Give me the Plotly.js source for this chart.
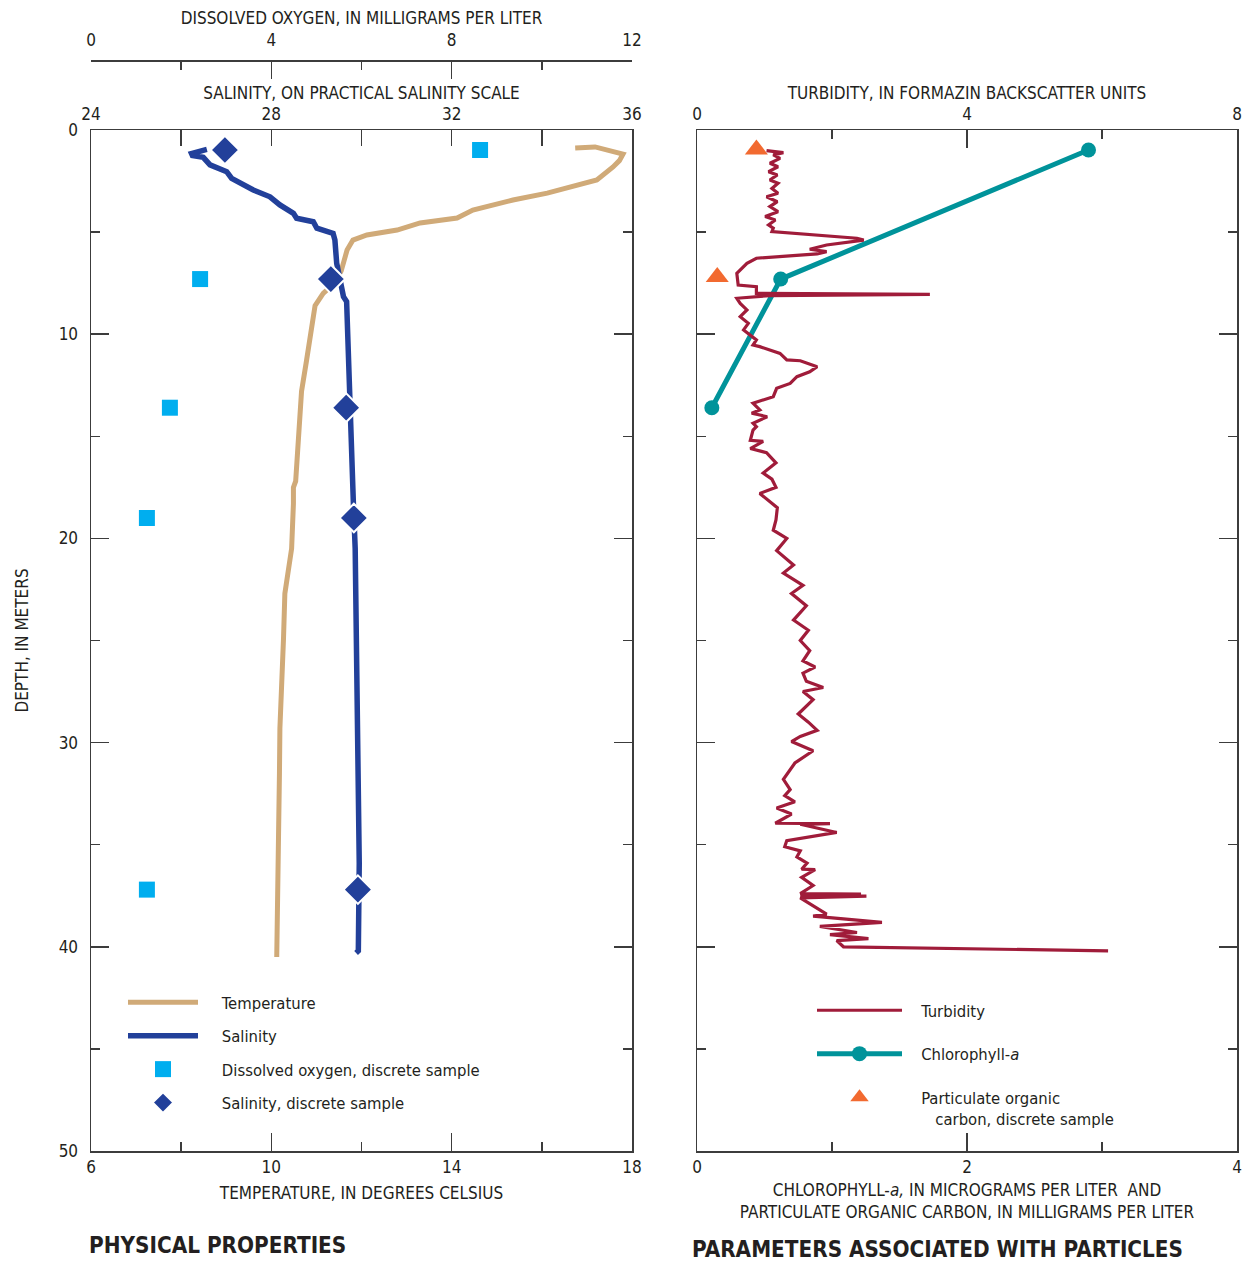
<!DOCTYPE html>
<html>
<head>
<meta charset="utf-8">
<script src="https://cdn.plot.ly/plotly-3.0.1.min.js"></script>
<style>
html,body{margin:0;padding:0;background:#fff;}
#chart{width:1251px;height:1264px;}
</style>
</head>
<body>
<div id="chart"></div>
<script>
// ---------- DATA ----------
// Temperature profile (degrees Celsius) vs depth (m)
const tempDepth = [0.88, 0.83, 1.18, 1.5, 1.81, 2.45, 3.09, 3.43, 3.92, 4.31, 4.55, 4.90, 5.14, 5.39, 5.88, 6.9, 7.5, 8.0, 8.6, 9.99, 11.3, 12.8, 15.0, 17.2, 17.5, 18.3, 20.5, 21.6, 22.7, 24.9, 27.1, 29.3, 31.5, 33.9, 35.9, 37.2, 38.1, 40.5];
const temperature = [16.74, 17.18, 17.80, 17.72, 17.58, 17.22, 16.12, 15.36, 14.47, 14.12, 13.30, 12.79, 12.12, 11.81, 11.68, 11.55, 11.40, 11.15, 10.97, 10.86, 10.78, 10.67, 10.60, 10.54, 10.49, 10.49, 10.45, 10.38, 10.30, 10.27, 10.23, 10.19, 10.18, 10.16, 10.14, 10.15, 10.12, 10.12];

// Salinity profile (practical salinity scale) vs depth (m)
const salDepth = [0.95, 1.15, 1.25, 1.34, 1.71, 2.04, 2.37, 2.94, 3.27, 3.67, 4.08, 4.32, 4.49, 4.81, 5.06, 5.39, 6.53, 7.18, 8.16, 8.4, 10.6, 12.8, 16.1, 18.3, 20.5, 24.9, 29.3, 33.7, 35.9, 40.2, 40.3];
const salinity = [26.57, 26.23, 26.25, 26.49, 26.64, 27.01, 27.12, 27.60, 27.97, 28.19, 28.49, 28.56, 28.93, 29.01, 29.37, 29.41, 29.45, 29.52, 29.60, 29.67, 29.71, 29.75, 29.78, 29.82, 29.86, 29.89, 29.91, 29.92, 29.95, 29.93, 29.88];

// Discrete samples
const sampleDepth = [0.98, 7.3, 13.6, 19.0, 37.2];
const dissolvedOxygen = [8.63, 2.42, 1.75, 1.24, 1.24];
const salinitySample = [26.97, 29.32, 29.66, 29.83, 29.92];

// Turbidity profile (FBU) vs depth (m)
const turbDepth = [1.01, 1.11, 1.22, 1.39, 1.63, 1.80, 2.04, 2.20, 2.45, 2.61, 2.86, 3.10, 3.27, 3.51, 3.75, 4.00, 4.24, 4.41, 4.65, 4.81, 4.98, 5.30, 5.39, 5.63, 5.84, 5.96, 6.07, 6.28, 6.53, 7.02, 7.59, 7.67, 8.00, 8.05, 8.11, 8.24, 8.49, 8.81, 9.14, 9.47, 9.79, 10.12, 10.28, 10.53, 10.61, 10.94, 11.26, 11.30, 11.59, 11.84, 12.08, 12.41, 12.65, 13.06, 13.22, 13.38, 13.71, 13.87, 14.04, 14.36, 14.53, 14.7, 15.2, 15.25, 15.6, 15.8, 16.3, 16.8, 17.1, 17.5, 17.8, 18.2, 18.5, 19.1, 19.6, 20.0, 20.6, 21.3, 21.7, 22.3, 22.7, 23.3, 24.0, 24.5, 25.0, 25.5, 26.0, 26.3, 26.6, 27.0, 27.3, 27.5, 27.9, 28.6, 29.0, 29.4, 29.7, 29.95, 30.4, 31.0, 31.4, 31.8, 32.3, 32.6, 32.9, 33.2, 33.5, 33.95, 33.97, 34.0, 34.4, 34.8, 35.1, 35.3, 35.6, 35.9, 36.2, 36.22, 36.6, 37.0, 37.4, 37.42, 37.5, 37.52, 37.6, 37.9, 38.4, 38.5, 38.8, 39.0, 39.3, 39.4, 39.6, 39.7, 40.0, 40.2];
const turbidity = [1.03, 1.28, 1.13, 1.23, 1.08, 1.20, 1.06, 1.19, 1.08, 1.20, 1.11, 1.20, 1.03, 1.19, 1.08, 1.20, 1.01, 1.16, 1.06, 1.13, 1.11, 2.37, 2.47, 1.92, 1.67, 1.92, 1.78, 0.88, 0.74, 0.59, 0.61, 0.88, 0.88, 3.45, 1.08, 0.59, 0.64, 0.74, 0.64, 0.76, 0.69, 0.81, 0.88, 0.83, 0.93, 1.23, 1.33, 1.53, 1.78, 1.67, 1.48, 1.38, 1.18, 1.13, 0.98, 0.83, 0.93, 0.81, 1.04, 0.83, 0.88, 0.83, 0.79, 0.98, 0.79, 1.03, 1.17, 0.98, 1.11, 1.17, 0.93, 1.07, 1.19, 1.17, 1.13, 1.33, 1.18, 1.43, 1.28, 1.57, 1.40, 1.62, 1.43, 1.65, 1.53, 1.67, 1.57, 1.75, 1.57, 1.62, 1.87, 1.57, 1.72, 1.50, 1.65, 1.78, 1.53, 1.40, 1.72, 1.45, 1.36, 1.28, 1.38, 1.30, 1.45, 1.18, 1.40, 1.16, 1.97, 1.53, 2.07, 1.33, 1.30, 1.53, 1.48, 1.63, 1.55, 1.75, 1.55, 1.72, 1.53, 2.43, 1.53, 2.51, 1.53, 1.67, 1.92, 1.72, 2.74, 1.82, 2.37, 1.97, 2.54, 2.07, 2.17, 6.09];

// Chlorophyll-a (ug/L) and particulate organic carbon (mg/L)
const chlDepth = [0.98, 7.3, 13.6];
const chlorophyll = [2.90, 0.62, 0.11];
const pocDepth = [0.95, 7.2];
const poc = [0.44, 0.15];

// Axis titles
const titleDO = 'DISSOLVED OXYGEN, IN MILLIGRAMS PER LITER';
const titleSal = 'SALINITY, ON PRACTICAL SALINITY SCALE';
const titleTemp = 'TEMPERATURE, IN DEGREES CELSIUS';
const titleDepth = 'DEPTH, IN METERS';
const titleTurb = 'TURBIDITY, IN FORMAZIN BACKSCATTER UNITS';
const titleChl = 'CHLOROPHYLL-<i>a,</i> IN MICROGRAMS PER LITER  AND<br>PARTICULATE ORGANIC CARBON, IN MILLIGRAMS PER LITER';

// ---------- STYLE ----------
const W = 1251, H = 1264;
const FONT = '"Liberation Sans Narrow", "DejaVu Sans Condensed", "Roboto", sans-serif';
const TXT = '#231f20';
const AX = '#3c3c3c';
const C_TEMP = '#d0aa78', C_SAL = '#22409a', C_DO = '#00aeef';
const C_TURB = '#a01c3a', C_CHL = '#00939a', C_POC = '#f26a30';
const FS = 17, LFS = 16.5;
const PAD = '\u00a0\u00a0\u00a0\u00a0';
const PAD3 = '\u00a0\u00a0\u00a0';

const leftDom = [91 / W, 632 / W];
const rightDom = [697 / W, 1237 / W];
const yDom = [1 - 1151 / H, 1 - 130 / H];

function minorTicks(vals, len) {
  return {tickvals: vals, ticks: 'inside', ticklen: len, tickwidth: 1.5, tickcolor: AX, showgrid: false};
}
function ax(extra) {
  return Object.assign({
    showline: true, linecolor: AX, linewidth: 1.5,
    ticks: 'inside', ticklen: 18, tickwidth: 1.5, tickcolor: AX,
    showgrid: false, zeroline: false, fixedrange: true,
    tickfont: {family: FONT, size: FS, color: TXT},
  }, extra);
}
function ttl(text, standoff) {
  return {text: text, font: {family: FONT, size: FS, color: TXT}, standoff: standoff};
}

const traces = [
  {x: temperature, y: tempDepth, xaxis: 'x', yaxis: 'y', mode: 'lines', name: PAD + 'Temperature',
   line: {color: C_TEMP, width: 5}, legend: 'legend', legendgroup: 'a'},
  {x: salinity, y: salDepth, xaxis: 'x2', yaxis: 'y', mode: 'lines', name: PAD + 'Salinity',
   line: {color: C_SAL, width: 5.5}, legend: 'legend', legendgroup: 'b'},
  {x: dissolvedOxygen, y: sampleDepth, xaxis: 'x3', yaxis: 'y', mode: 'markers', name: PAD + 'Dissolved oxygen, discrete sample',
   marker: {symbol: 'square', size: 16, color: C_DO}, legend: 'legend', legendgroup: 'c'},
  {x: salinitySample, y: sampleDepth, xaxis: 'x2', yaxis: 'y', mode: 'markers', name: PAD + 'Salinity, discrete sample',
   marker: {symbol: 'diamond', size: 22, color: C_SAL, line: {color: '#ffffff', width: 2}}, legend: 'legend', legendgroup: 'd'},

  {x: turbidity, y: turbDepth, xaxis: 'x5', yaxis: 'y2', mode: 'lines', name: PAD3 + 'Turbidity',
   line: {color: C_TURB, width: 3.2}, legend: 'legend2', legendgroup: 'e'},
  {x: chlorophyll, y: chlDepth, xaxis: 'x4', yaxis: 'y2', mode: 'lines+markers', name: PAD3 + 'Chlorophyll-<i>a</i>',
   line: {color: C_CHL, width: 5}, marker: {size: 15, color: C_CHL}, legend: 'legend2', legendgroup: 'f'},
  {x: poc, y: pocDepth, xaxis: 'x4', yaxis: 'y2', mode: 'markers', name: PAD3 + 'Particulate organic<br>' + PAD + '\u00a0\u00a0carbon, discrete sample',
   marker: {symbol: 'triangle-up', size: 20, color: C_POC}, legend: 'legend2', legendgroup: 'g'},
];

const layout = {
  width: W, height: H,
  margin: {l: 0, r: 0, t: 0, b: 0},
  paper_bgcolor: '#fff', plot_bgcolor: 'rgba(0,0,0,0)',
  font: {family: FONT, size: FS, color: TXT},
  showlegend: true,
  xaxis: ax({domain: leftDom, anchor: 'y', side: 'bottom', range: [6, 18], tickvals: [6, 10, 14, 18],
             minor: minorTicks([8, 12, 16], 9), ticklabelstandoff: 0, title: ttl(titleTemp, 11)}),
  xaxis2: ax({domain: leftDom, overlaying: 'x', anchor: 'y', side: 'top', range: [24, 36], tickvals: [24, 28, 32, 36],
              minor: minorTicks([26, 30, 34], 16), ticklen: 16, ticklabelstandoff: 2, title: ttl(titleSal, 0)}),
  xaxis3: ax({domain: leftDom, overlaying: 'x', anchor: 'free', position: 1 - 60 / H, side: 'top', range: [0, 12], tickvals: [0, 4, 8, 12],
              minor: minorTicks([2, 6, 10], 8), ticklen: 17, ticklabelstandoff: 7, title: ttl(titleDO, 0)}),
  yaxis: ax({domain: yDom, anchor: 'x', range: [50, 0], tickvals: [0, 10, 20, 30, 40, 50], mirror: 'ticks',
             minor: minorTicks([5, 15, 25, 35, 45], 9), ticklabelstandoff: 8, title: ttl(titleDepth, 25)}),

  xaxis4: ax({domain: rightDom, anchor: 'y2', side: 'bottom', range: [0, 4], tickvals: [0, 2, 4],
              minor: minorTicks([1, 3], 9), ticklabelstandoff: 0, title: ttl(titleChl, 8)}),
  xaxis5: ax({domain: rightDom, overlaying: 'x4', anchor: 'y2', side: 'top', range: [0, 8], tickvals: [0, 4, 8],
              minor: minorTicks([2, 6], 9), ticklabelstandoff: 2, title: ttl(titleTurb, 0)}),
  yaxis2: ax({domain: yDom, anchor: 'x4', range: [50, 0], tickvals: [0, 10, 20, 30, 40, 50], mirror: 'ticks',
              showticklabels: false, minor: minorTicks([5, 15, 25, 35, 45], 9)}),

  legend: {x: 123 / W, y: 1 - 985 / H, xanchor: 'left', yanchor: 'top', bgcolor: 'rgba(0,0,0,0)',
           font: {family: FONT, size: LFS, color: TXT}, tracegroupgap: 9, itemwidth: 70, traceorder: 'grouped'},
  legend2: {x: 812 / W, y: 1 - 993 / H, xanchor: 'left', yanchor: 'top', bgcolor: 'rgba(0,0,0,0)',
            font: {family: FONT, size: LFS, color: TXT}, tracegroupgap: 19, itemwidth: 85, traceorder: 'grouped', valign: 'top'},

  annotations: [
    {text: '<b>PHYSICAL PROPERTIES</b>', xref: 'paper', yref: 'paper', x: 87 / W, y: 1 - 1245 / H,
     xanchor: 'left', yanchor: 'middle', showarrow: false, font: {family: FONT, size: 22.3, color: TXT}},
    {text: '<b>PARAMETERS ASSOCIATED WITH PARTICLES</b>', xref: 'paper', yref: 'paper', x: 690 / W, y: 1 - 1249 / H,
     xanchor: 'left', yanchor: 'middle', showarrow: false, font: {family: FONT, size: 22.3, color: TXT}},
  ],
};

Plotly.newPlot('chart', traces, layout, {displayModeBar: false, staticPlot: true});
</script>
</body>
</html>
